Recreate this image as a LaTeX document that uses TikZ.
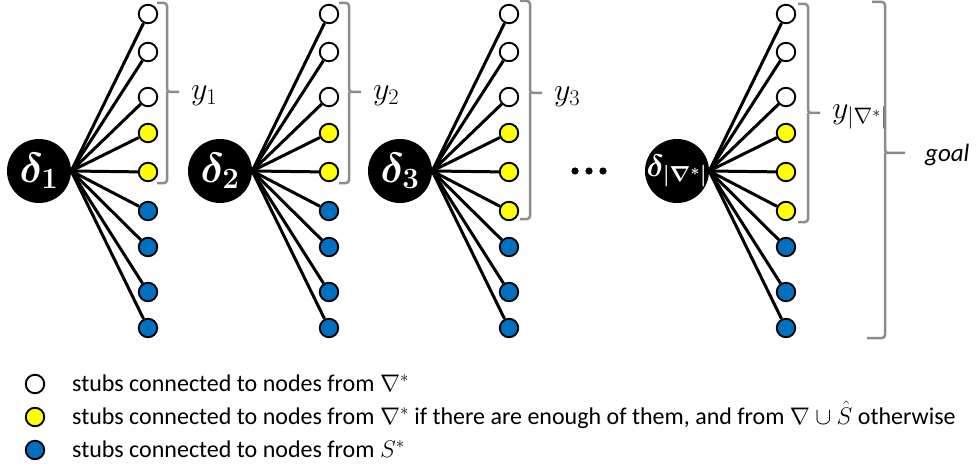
\RequirePackage{fix-cm}
\documentclass[tikz,border=0pt]{standalone}
\usepackage{amsmath,bm}
\usepackage{fontspec}
\setmainfont{Carlito}
\definecolor{stubblue}{HTML}{0070C0}
\definecolor{stubyellow}{HTML}{FFFF00}
\definecolor{bracegray}{HTML}{8C8C8C}

\begin{document}
\begin{tikzpicture}[x=1pt, y=-1pt,
		hub/.style={circle, fill=black, minimum size=64pt, inner sep=0pt},
		hublbl/.style={text=white, inner sep=0pt},
		stub/.style={circle, draw=black, line width=1.9pt, minimum size=18.5pt, inner sep=0pt},
		spoke/.style={black, line width=3pt},
		brace/.style={bracegray, line width=2.5pt, rounded corners=3pt},
		ylbl/.style={anchor=west, inner sep=0pt, font=\fontsize{32}{38}\selectfont},
		legtxt/.style={anchor=base west, inner sep=0pt, font=\fontsize{24}{29}\selectfont}]
		\useasboundingbox (0,0) rectangle (977,468);

		\foreach \g/\cx/\ny in {1/39/2, 2/220/2, 3/400/3, 4/677/3} {
			\node[hub] (d\g) at (\cx,171) {};
			\foreach \sy [count=\k] in {14,52,97,133,172,211,247,292,328} {
				\ifnum\k<4 \def\sfill{white}\else\ifnum\k>\numexpr3+\ny\relax \def\sfill{stubblue}\else \def\sfill{stubyellow}\fi\fi
				\node[stub, fill=\sfill] (s\g-\k) at (\cx+109,\sy) {};
				\draw[spoke] (d\g.east) -- (s\g-\k);
			}
		}
		\node[hublbl, font=\fontsize{42}{50}\selectfont] (t1) at (d1) {$\bm{\delta}_{\bm{1}}$};
		\node[hublbl, font=\fontsize{42}{50}\selectfont] (t2) at (d2) {$\bm{\delta}_{\bm{2}}$};
		\node[hublbl, font=\fontsize{42}{50}\selectfont] (t3) at (d3) {$\bm{\delta}_{\bm{3}}$};
		\node[hublbl, font=\fontsize{31}{37}\selectfont] (t4) at (d4) {$\bm{\delta}_{\bm{|\nabla^{*}|}}$};

		\foreach \dx in {575,589,603}
			\fill (\dx,171) circle (3.6pt);

		\foreach \n/\bx/\btop/\bbot/\bmid/\lbl in {1/167/3/183/92/{$y_1$}, 2/349/3/183/92/{$y_2$}, 3/530/1/219/93/{$y_3$}, 4/808/4/222/113/{$y_{|\nabla^*|}$}} {
			\draw[brace] (\bx-10,\btop) -- (\bx,\btop) -- (\bx,\bmid) -- (\bx+12,\bmid);
			\draw[brace] (\bx,\bmid) -- (\bx,\bbot) -- (\bx-10,\bbot);
			\node[ylbl] (y\n) at (\bx+24,\bmid+4) {\lbl};
		}
		\draw[brace] (872,2) -- (885,2) -- (885,153) -- (905,153);
		\draw[brace] (885,153) -- (885,338) -- (867,338);
		\node[anchor=west, inner sep=0pt, font=\fontsize{25}{30}\selectfont\itshape] (goal) at (925,155) {goal};

		\foreach \k/\c/\txt in {1/white/{stubs connected to nodes from $\nabla^*$}, 2/stubyellow/{stubs connected to nodes from $\nabla^*$ if there are enough of them, and from $\nabla\cup\hat{S}$ otherwise}, 3/stubblue/{stubs connected to nodes from $S^*$}} {
			\node[stub, fill=\c] (k\k) at (35,351+33*\k) {};
			\node[legtxt] (leg\k) at (72,358+33*\k) {\txt};
		}
	\end{tikzpicture}
\end{document}
